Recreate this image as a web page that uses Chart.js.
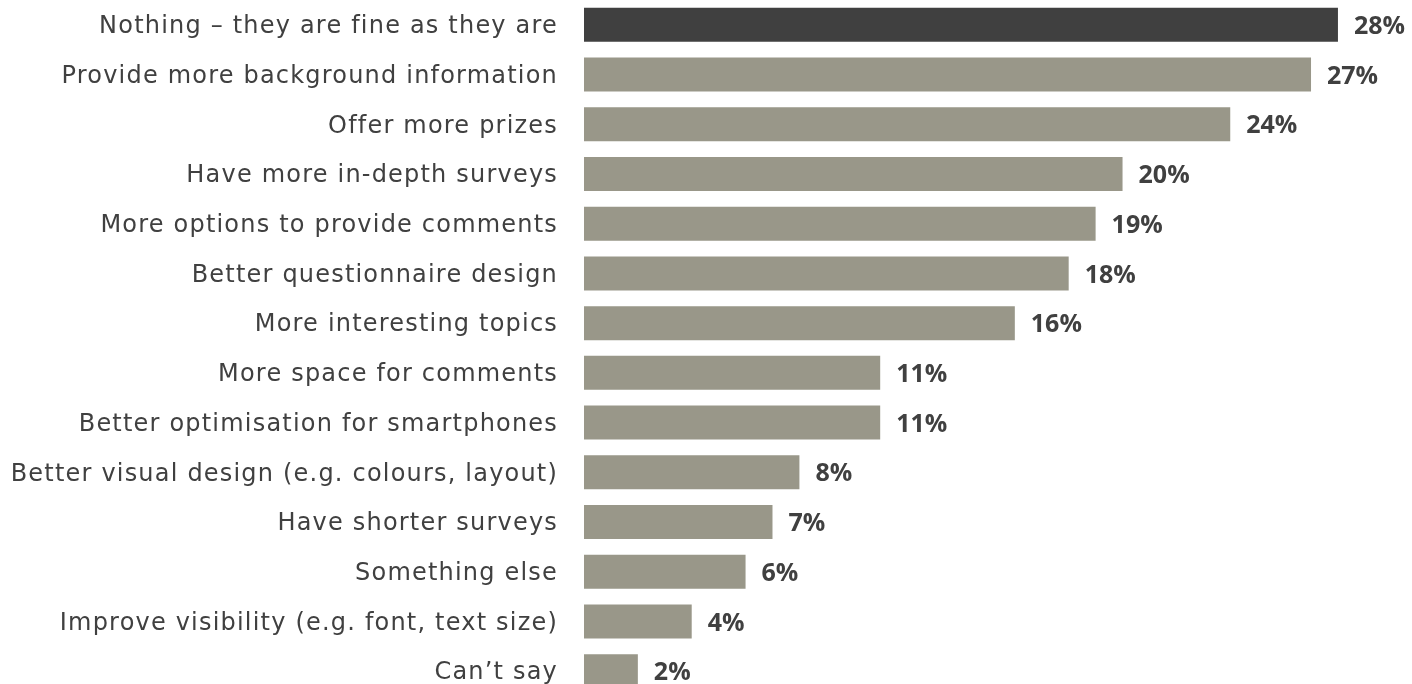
<!DOCTYPE html>
<html>
<head>
<meta charset="utf-8">
<script src="https://cdn.jsdelivr.net/npm/chart.js@4"></script>
<style>
  html, body { margin: 0; padding: 0; background: #fff; overflow: hidden; }
  .chart-wrapper { position: relative; width: 1412px; height: 696px; }
</style>
</head>
<body>
<div class="chart-wrapper"><canvas id="improve-chart"></canvas></div>
<script>
const categories = [
  'Nothing – they are fine as they are',
  'Provide more background information',
  'Offer more prizes',
  'Have more in-depth surveys',
  'More options to provide comments',
  'Better questionnaire design',
  'More interesting topics',
  'More space for comments',
  'Better optimisation for smartphones',
  'Better visual design (e.g. colours, layout)',
  'Have shorter surveys',
  'Something else',
  'Improve visibility (e.g. font, text size)',
  'Can’t say',
];
const shares = [28, 27, 24, 20, 19, 18, 16, 11, 11, 8, 7, 6, 4, 2];

const BAR_DARK = '#404040';
const BAR_GREY = '#999789';
const TEXT = '#404040';

// wider tracking for the category labels
const tracking = {
  id: 'tracking',
  beforeDraw(chart) { chart.ctx.letterSpacing = '1.2px'; },
};

// bold percentage after each bar
const valueLabels = {
  id: 'valueLabels',
  afterDatasetsDraw(chart) {
    const { ctx } = chart;
    const meta = chart.getDatasetMeta(0);
    ctx.save();
    ctx.letterSpacing = '0px';
    ctx.font = 'bold 25px "Open Sans"';
    ctx.fillStyle = TEXT;
    ctx.textAlign = 'left';
    ctx.textBaseline = 'middle';
    meta.data.forEach((bar, i) => {
      ctx.fillText(shares[i] + '%', bar.x + 16, bar.y + 2);
    });
    ctx.restore();
  },
};

const ctx = document.getElementById('improve-chart').getContext('2d');
new Chart(ctx, {
  type: 'bar',
  data: {
    labels: categories,
    datasets: [{
      data: shares,
      backgroundColor: shares.map((_, i) => (i === 0 ? BAR_DARK : BAR_GREY)),
      borderWidth: 0,
      categoryPercentage: 1,
      barPercentage: 0.684,
    }],
  },
  options: {
    indexAxis: 'y',
    responsive: true,
    maintainAspectRatio: false,
    animation: false,
    layout: { padding: 0 },
    plugins: { legend: { display: false }, tooltip: { enabled: false } },
    scales: {
      x: { display: false, min: 0, max: 30.75 },
      y: {
        grid: { display: false, drawTicks: false },
        border: { display: false },
        ticks: {
          color: TEXT,
          padding: 26,
          labelOffset: 2,
          font: { family: '"DejaVu Sans"', size: 24 },
        },
        afterFit: scale => {
          scale.width = 584;
          scale.paddingTop = 0;
          scale.paddingBottom = 0;
        },
      },
    },
  },
  plugins: [tracking, valueLabels],
});
</script>
</body>
</html>
